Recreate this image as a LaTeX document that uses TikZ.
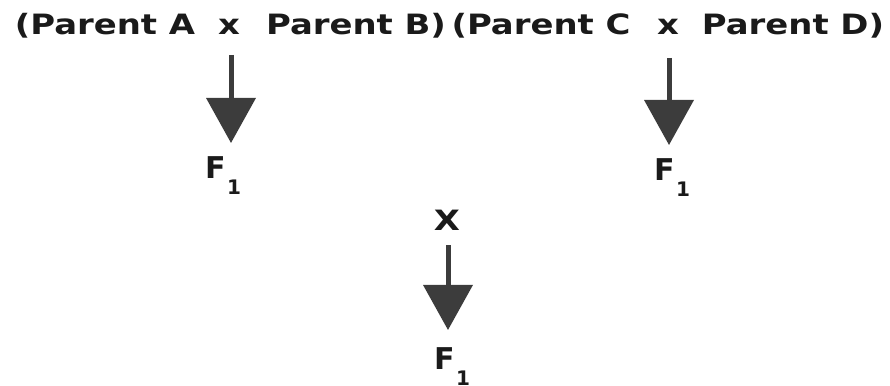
\documentclass[tikz,border=0pt]{standalone}
\usepackage{graphicx}
\usepackage{fontspec}
\setmainfont{DejaVu Sans}
\usetikzlibrary{arrows.meta,calc}
\definecolor{arrowgray}{HTML}{3C3C3C}
\definecolor{inkblack}{HTML}{1A1A1A}
% horizontally widened bold lettering
\newcommand{\wide}[1]{\scalebox{1.21}[1]{#1}}
% first filial generation label
\newcommand{\Fone}{F\kern1.5pt\raisebox{-16pt}{\fontsize{20}{20}\selectfont 1}}
\begin{document}
\begin{tikzpicture}[x=1pt,y=-1pt,
  cross/.style={inner sep=0pt,anchor=base,font=\fontsize{28}{30}\selectfont\bfseries,text=inkblack},
  gen/.style={inner sep=0pt,anchor=base west,font=\fontsize{30}{32}\selectfont\bfseries,text=inkblack},
  bigarrow/.style={draw=arrowgray,line width=5pt,
    -{Triangle[width=50pt,length=45pt,line width=0pt]}}]
\useasboundingbox (0,0) rectangle (890,385);

% parental crosses
\node[cross] (pa) at (105,35) {\wide{(Parent A}};
\node[cross] (xa) at (229,35) {\wide{x}};
\node[cross] (pb) at (356,35) {\wide{Parent B)}};
\node[cross] (pc) at (541,35) {\wide{(Parent C}};
\node[cross] (xc) at (668,35) {\wide{x}};
\node[cross] (pd) at (793,35) {\wide{Parent D)}};

% offspring of each cross
\node[gen] (fa) at (205,178) {\Fone};
\node[gen] (fc) at (654,180) {\Fone};

% second cross
\node[cross] (xm) at (447,230) {\wide{X}};
\node[gen] (fm) at (434,369) {\Fone};

% arrows
\draw[bigarrow] ($(xa.base)+(2,20)$) -- ($(xa.base |- fa.north)+(2,-13)$);
\draw[bigarrow] ($(xc.base)+(1,23)$) -- ($(xc.base |- fc.north)+(1,-13)$);
\draw[bigarrow] ($(xm.base)+(1,15)$) -- ($(xm.base |- fm.north)+(1,-17)$);
\end{tikzpicture}
\end{document}
